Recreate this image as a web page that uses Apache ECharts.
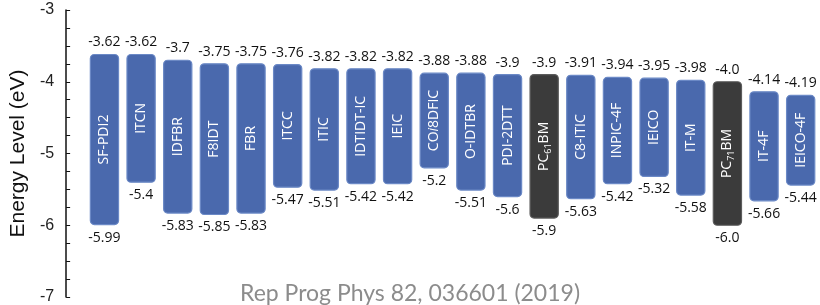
<!DOCTYPE html>
<html>
<head>
<meta charset="utf-8">
<script src="https://cdn.jsdelivr.net/npm/echarts@6/dist/echarts.min.js"></script>
<style>html,body{margin:0;padding:0;background:#fff}#c{width:820px;height:305px}</style>
</head>
<body>
<div id="c"></div>
<script>
const materials = ['SF-PDI2','ITCN','IDFBR','F8IDT','FBR','ITCC','ITIC','IDTIDT-IC','IEIC','CO{i|i}8DFIC','O-IDTBR','PDI-2DTT','PC{s|61}BM','C8-ITIC','INPIC-4F','IEICO','IT-M','PC{s|71}BM','IT-4F','IEICO-4F'];
const materialKind = ['nfa','nfa','nfa','nfa','nfa','nfa','nfa','nfa','nfa','nfa','nfa','nfa','fullerene','nfa','nfa','nfa','nfa','fullerene','nfa','nfa'];
const lumo = [-3.62,-3.62,-3.7,-3.75,-3.75,-3.76,-3.82,-3.82,-3.82,-3.88,-3.88,-3.9,-3.9,-3.91,-3.94,-3.95,-3.98,-4.0,-4.14,-4.19];
const homo = [-5.99,-5.4,-5.83,-5.85,-5.83,-5.47,-5.51,-5.42,-5.42,-5.2,-5.51,-5.6,-5.9,-5.63,-5.42,-5.32,-5.58,-6.0,-5.66,-5.44];
const lumoText = ['-3.62','-3.62','-3.7','-3.75','-3.75','-3.76','-3.82','-3.82','-3.82','-3.88','-3.88','-3.9','-3.9','-3.91','-3.94','-3.95','-3.98','-4.0','-4.14','-4.19'];
const homoText = ['-5.99','-5.4','-5.83','-5.85','-5.83','-5.47','-5.51','-5.42','-5.42','-5.2','-5.51','-5.6','-5.9','-5.63','-5.42','-5.32','-5.58','-6.0','-5.66','-5.44'];
const yTicks = [-7,-6,-5,-4,-3];
const yTitle = 'Energy Level (eV)';
const sourceText = 'Rep Prog Phys 82, 036601 (2019)';

const data = materials.map((m, i) => [i, lumo[i], homo[i]]);
const chart = echarts.init(document.getElementById('c'));
const valFont = '14px "Open Sans"';

chart.setOption({
  animation: false,
  title: {
    text: sourceText, left: 'center', top: 277,
    textStyle: {fontFamily: 'Lato', fontSize: 23, fontWeight: 'normal', color: '#8c8c8c'}
  },
  grid: {left: 82, right: 1, top: 10, bottom: 8},
  xAxis: {
    type: 'category', data: materials.map((m, i) => i),
    axisLine: {show: false}, axisTick: {show: false}, axisLabel: {show: false}, splitLine: {show: false}
  },
  yAxis: {
    type: 'value', min: yTicks[0], max: yTicks[yTicks.length - 1], interval: 1, offset: 20,
    name: yTitle, nameLocation: 'middle', nameGap: 33,
    nameTextStyle: {fontFamily: 'Liberation Sans', fontSize: 21, color: '#111'},
    axisLine: {show: true, lineStyle: {color: '#111', width: 1.5}},
    axisTick: {show: true, inside: true, length: 4, lineStyle: {color: '#111', width: 1}},
    minorTick: {show: true, splitNumber: 4, length: 4, lineStyle: {color: '#111', width: 1}},
    axisLabel: {fontFamily: 'Liberation Sans', fontSize: 16, color: '#222', margin: 12},
    splitLine: {show: false}
  },
  series: [{
    type: 'custom',
    data: data,
    encode: {x: 0, y: [1, 2]},
    renderItem: function (params, api) {
      const i = api.value(0);
      const p1 = api.coord([i, api.value(1)]);
      const p2 = api.coord([i, api.value(2)]);
      const bw = api.size([1, 0])[0] * 0.77;
      const dark = materialKind[i] === 'fullerene';
      const x0 = p1[0] - bw / 2;
      const h = p2[1] - p1[1];
      return {
        type: 'group',
        children: [
          {
            type: 'rect',
            shape: {x: x0, y: p1[1], width: bw, height: h, r: 4},
            style: {
              fill: dark ? '#3b3b3b' : '#4a69ad',
              stroke: dark ? '#5c5c5c' : '#6b89c6',
              lineWidth: 1.2
            }
          },
          {
            type: 'text',
            x: p1[0], y: p1[1] + h / 2,
            rotation: Math.PI / 2,
            style: {
              text: materials[i], x: 0, y: 0, align: 'center', verticalAlign: 'middle',
              fill: '#ffffff', font: '14px "Open Sans"', lineHeight: 18,
              rich: {
                s: {fontSize: 9, fontFamily: 'Open Sans', fill: '#ffffff', verticalAlign: 'bottom', lineHeight: 10},
                i: {fontSize: 14, fontFamily: 'Open Sans', fontStyle: 'italic', fill: '#ffffff', lineHeight: 18}
              }
            }
          },
          {
            type: 'text',
            style: {text: lumoText[i], x: p1[0], y: p1[1] - 5, align: 'center', verticalAlign: 'bottom', fill: '#111', font: valFont}
          },
          {
            type: 'text',
            style: {text: homoText[i], x: p2[0], y: p2[1] + 6, align: 'center', verticalAlign: 'top', fill: '#111', font: valFont}
          }
        ]
      };
    }
  }]
});
</script>
</body>
</html>
